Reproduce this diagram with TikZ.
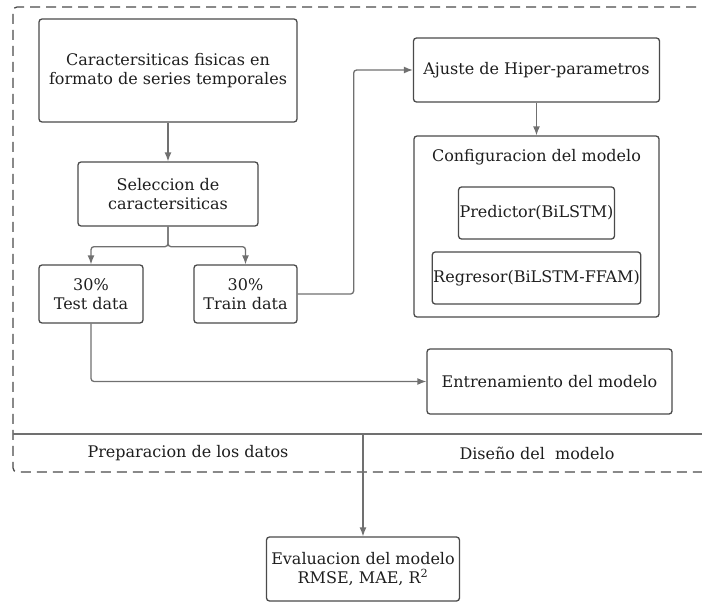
\documentclass[tikz,border=0pt]{standalone}
\usepackage{fontspec}
\setmainfont{DejaVu Serif}
\usepackage{xcolor}
\usetikzlibrary{arrows.meta}

\definecolor{linegray}{HTML}{707070}
\definecolor{boxgray}{HTML}{4A4A4A}
\definecolor{txtgray}{HTML}{1E1E1E}

\tikzset{
  box/.style={draw=boxgray, line width=1.3pt, rounded corners=3pt, align=center,
    text=txtgray, inner sep=1pt, font=\fontsize{16}{19.5}\selectfont},
  flow/.style={draw=linegray, line width=1.3pt, ->, >={Latex[length=9pt,width=7pt]},
    rounded corners=3pt},
  lbl/.style={text=txtgray, font=\fontsize{16}{19.5}\selectfont}
}

\begin{document}
\begin{tikzpicture}[x=1pt,y=-1pt]
\useasboundingbox (0,0) rectangle (702,602);

% marco punteado y division
\draw[boxgray, line width=1.3pt, dash pattern=on 10pt off 6pt, rounded corners=4pt]
  (712,7) -- (13,7) -- (13,472) -- (712,472);
\draw[linegray, line width=1.3pt] (13,434) -- (702,434);
\coordinate (split) at (363,434);

% preparacion de los datos
\node[box, minimum width=258pt, minimum height=103pt] (feat) at (168,70.5)
  {Caractersiticas fisicas en\\formato de series temporales};
\node[box, minimum width=180pt, minimum height=64pt] (sel) at (168,194)
  {Seleccion de\\caractersiticas};
\node[box, minimum width=104pt, minimum height=58pt] (test) at (91,294)
  {30\%\\Test data};
\node[box, minimum width=103pt, minimum height=58pt] (train) at (245.5,294)
  {30\%\\Train data};

% diseño del modelo
\node[box, minimum width=246pt, minimum height=64pt] (ajuste) at (536.5,70)
  {Ajuste de Hiper-parametros};
\node[box, minimum width=245pt, minimum height=181pt] (config) at (536.5,226.5) {};
\node[lbl] (cfgtitle) at (536.5,157) {Configuracion del modelo};
\node[box, minimum width=155pt, minimum height=52pt] (pred) at (536.5,213)
  {Predictor(BiLSTM)};
\node[box, minimum width=207pt, minimum height=52pt] (regr) at (536.5,278)
  {Regresor(BiLSTM-FFAM)};
\node[box, minimum width=245pt, minimum height=65pt] (entr) at (549.5,381.5)
  {Entrenamiento del modelo};

\node[lbl] (prep) at (188,453) {Preparacion de los datos};
\node[lbl] (dis) at (537,453) {Diseño del~ modelo};

\node[box, minimum width=193pt, minimum height=64pt] (eval) at (363,569)
  {Evaluacion del modelo\\RMSE, MAE, R\textsuperscript{2}};

% conexiones
\draw[flow] (feat.south) -- (sel.north);
\draw[flow] (sel.south) -- ++(0,20) -| (test.north);
\draw[flow] (sel.south) -- ++(0,20) -| (train.north);
\draw[flow] (train.east) -- ++(56,0) |- (ajuste.west);
\draw[flow] (ajuste.south) -- (config.north);
\draw[flow] (test.south) |- (entr.west);
\draw[flow] (split) -- (eval.north);
\end{tikzpicture}
\end{document}
